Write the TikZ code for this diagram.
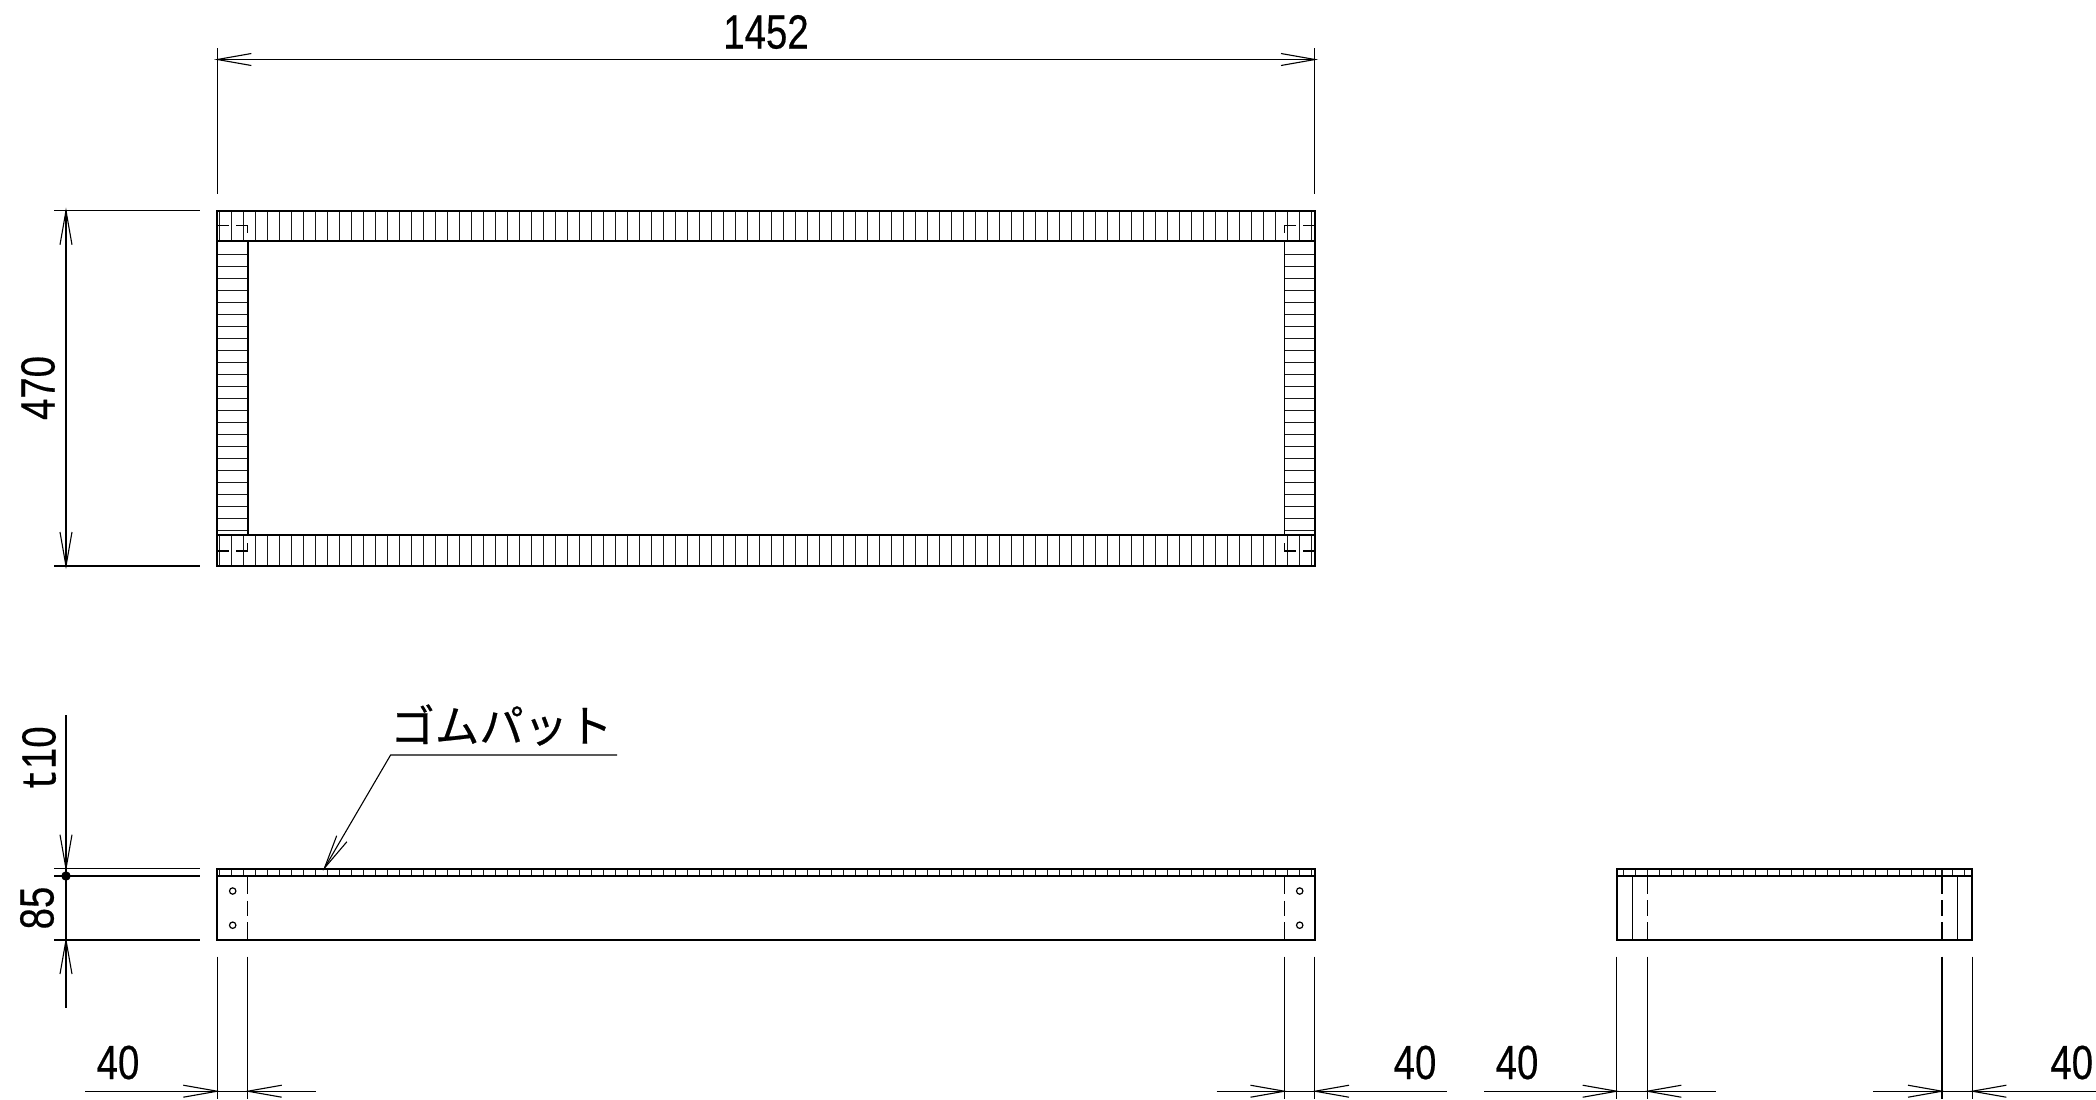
\documentclass[tikz,border=0pt]{standalone}
\usepackage{fontspec}
\newfontfamily\dimf[FakeStretch=0.8,FakeBold=0.35]{Liberation Sans}
\newfontfamily\dimt[FakeStretch=0.75,FakeBold=0.6]{Liberation Mono}
\newfontfamily\cjkf[FakeBold=0.5]{Noto Sans CJK JP}
\tikzset{
  obj/.style={line width=0.85pt,black},
  thin part/.style={line width=0.6pt,black},
  hatch/.style={line width=0.65pt,black!90},
  dimline/.style={line width=0.55pt,black,line join=miter},
  dimtext/.style={inner sep=0pt,font=\dimf\fontsize{24pt}{24pt}\selectfont},
  labeltext/.style={inner sep=0pt,font=\cjkf\fontsize{22.2pt}{24pt}\selectfont},
}
% arrowheads: tip position, direction the tail lies in
\newcommand{\harrow}[3]{\draw[dimline] (#1+34*#3,#2-6) -- (#1,#2) -- (#1+34*#3,#2+6);}
\newcommand{\varrow}[3]{\draw[dimline] (#1-6,#2+34*#3) -- (#1,#2) -- (#1+6,#2+34*#3);}
\begin{document}
\begin{tikzpicture}[x=0.5pt,y=-0.5pt]
\path[fill=white] (0,0) rectangle (2096,1099);
\useasboundingbox (0,0) rectangle (2096,1099);

% ---------- plan view ----------
\foreach \k in {0,...,91} {
  \draw[hatch] ({219.7+12*\k},210.7) -- ({219.7+12*\k},241);
  \draw[hatch] ({219.7+12*\k},535.3) -- ({219.7+12*\k},566);
}
\foreach \k in {0,...,23} {
  \draw[hatch] (217.3,{254.5+12*\k}) -- (247.7,{254.5+12*\k});
  \draw[hatch] (1284.5,{254.5+12*\k}) -- (1315,{254.5+12*\k});
}
\draw[obj] (217.3,210.7) rectangle (1315,566);
\draw[obj] (217.3,241) -- (1315,241);
\draw[obj] (217.3,535.3) -- (1315,535.3);
\draw[obj] (247.7,241) -- (247.7,535.3);
\draw[obj] (1284.5,241) -- (1284.5,535.3);
% hidden corner lines
\draw[thin part] (218,225.7) -- (229,225.7) (236,225.7) -- (247.7,225.7) -- (247.7,233.3);
\draw[thin part] (218,551) -- (229,551) (236,551) -- (247.7,551) -- (247.7,543);
\draw[thin part] (1315,225.7) -- (1303,225.7) (1296,225.7) -- (1284.5,225.7) -- (1284.5,233.3);
\draw[thin part] (1315,551) -- (1303,551) (1296,551) -- (1284.5,551) -- (1284.5,543);

% dimension 1452
\draw[dimline] (217.3,48) -- (217.3,194);
\draw[dimline] (1314.6,48) -- (1314.6,194);
\draw[dimline] (217.3,59.5) -- (1315,59.5);
\harrow{217.3}{59.5}{1}
\harrow{1315}{59.5}{-1}
\node[dimtext] (d1452) at (766,32) {1452};

% dimension 470
\draw[dimline] (54,210.7) -- (200,210.7);
\draw[dimline] (54,566) -- (200,566);
\draw[dimline] (66,210.7) -- (66,566);
\varrow{66}{210.7}{1}
\varrow{66}{566}{-1}
\node[dimtext,rotate=90] (d470) at (38,388) {470};

% ---------- side view ----------
\foreach \k in {0,...,91} \draw[hatch] ({219.7+12*\k},868.7) -- ({219.7+12*\k},876);
\draw[obj] (217.3,868.7) rectangle (1315,940);
\draw[obj] (217.3,876) -- (1315,876);
\foreach \x in {247.7,1284.5}
  \draw[thin part] (\x,876) -- (\x,894.3) (\x,900.5) -- (\x,916) (\x,922) -- (\x,940);
\foreach \x in {232.7,1299.7}
  \foreach \y in {891,925.2}
    \draw[thin part] (\x,\y) circle[radius=3.2];

% dimensions t10 / 85
\draw[dimline] (54,868.7) -- (200,868.7);
\draw[obj] (54,876) -- (200,876);
\draw[dimline] (54,940) -- (200,940);
\draw[dimline] (66,715) -- (66,1008);
\varrow{66}{868.7}{-1}
\varrow{66}{940}{1}
\fill (66,876) circle[radius=4.7];
\node[dimtext,rotate=90] (dt10) at (39,758.5) {{\dimt t}10};
\node[dimtext,rotate=90] (d85) at (37,908) {85};

% leader
\coordinate (leadtip) at (324.5,868);
\coordinate (leadknee) at (390.6,755);
\coordinate (leadend) at (617,755);
\draw[dimline] (leadtip) -- (leadknee) -- (leadend);
\draw[dimline] (346.9,841.7) -- (leadtip) -- (336.7,835.7);
\node[labeltext] (pad) at (501.5,725) {ゴムパット};

% widths under side view
\foreach \x in {217.3,247.7,1284.5,1314.6}
  \draw[dimline] (\x,956.7) -- (\x,1099);
\draw[dimline] (85,1091.2) -- (315.7,1091.2);
\harrow{217.3}{1091.2}{-1}
\harrow{247.7}{1091.2}{1}
\node[dimtext] (w1) at (118,1062.5) {40};
\draw[dimline] (1216.7,1091.2) -- (1446.7,1091.2);
\harrow{1284.5}{1091.2}{-1}
\harrow{1315}{1091.2}{1}
\node[dimtext] (w2) at (1415,1062.5) {40};

% ---------- end view ----------
\foreach \x in {1623.4,1635.4,...,1936,1942,1952.7,1964.3}
  \draw[hatch] (\x,868.7) -- (\x,876);
\draw[obj] (1616.7,868.7) rectangle (1972.3,940);
\draw[obj] (1616.7,876) -- (1972.3,876);
\draw[thin part] (1632.3,876) -- (1632.3,940);
\draw[thin part] (1957.3,876) -- (1957.3,940);
\foreach \x in {1647.3,1942}
  \draw[thin part] (\x,876) -- (\x,893.5) (\x,900) -- (\x,915.7) (\x,922.3) -- (\x,940);

\foreach \x in {1616.7,1647.3,1942,1972.3}
  \draw[dimline] (\x,956.7) -- (\x,1099);
\draw[dimline] (1484,1091.2) -- (1715.7,1091.2);
\harrow{1616.7}{1091.2}{-1}
\harrow{1647.3}{1091.2}{1}
\node[dimtext] (w3) at (1517,1062.5) {40};
\draw[dimline] (1873.3,1091.2) -- (2096,1091.2);
\harrow{1942}{1091.2}{-1}
\harrow{1972.3}{1091.2}{1}
\node[dimtext] (w4) at (2071.7,1062.5) {40};
\end{tikzpicture}
\end{document}
